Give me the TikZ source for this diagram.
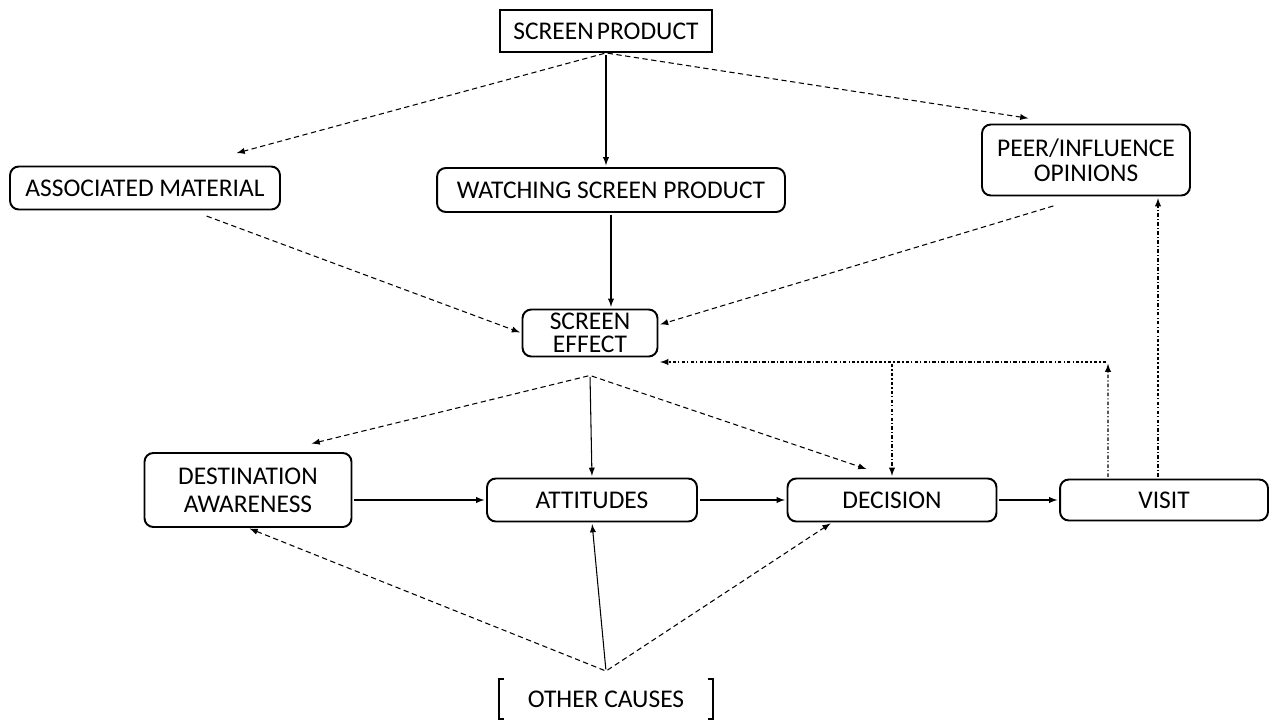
\documentclass[tikz,border=0pt]{standalone}
\usepackage{fontspec}
\setmainfont{Carlito}
\usetikzlibrary{arrows,positioning}
\tikzset{%
  % Specifications for style of arrows:
   link/.style={
           -latex,
           line width=0.6pt,
           shorten <=1pt,
           shorten >=1pt,},
   dashlink/.style={
           link,
           dash pattern=on 3pt off 2pt},
   feedback/.style={
           link,
           dash pattern=on 2pt off 1.2pt on 0.7pt off 1.2pt},
  % Specifications for style of nodes:
   base/.style = {rectangle, rounded corners=5pt, draw=black, line width=1.1pt,
                  inner sep=0pt, align=center,
                  text centered, font=\fontsize{14.5}{14}\selectfont},
   plain/.style = {base, sharp corners},
   open/.style = {base, draw=none},
}

\begin{document}
\begin{tikzpicture}[x=0.02cm, y=-0.02cm]
  \useasboundingbox (0,0) rectangle (1271,720);

  % Specification of nodes (position, etc.)
  \node (sp)     [plain, minimum width=4.24cm, minimum height=0.84cm] at (606,31)  {SCREEN\hspace{0.12em}PRODUCT};
  \node (assoc)  [base, minimum width=5.4cm, minimum height=0.86cm]   at (145,188) {ASSOCIATED MATERIAL};
  \node (watch)  [base, minimum width=6.96cm, minimum height=0.88cm]  at (611,190) {WATCHING SCREEN PRODUCT};
  \node (peer)   [base, minimum width=4.16cm, minimum height=1.42cm]  at (1086,160) {PEER/INFLUENCE\\OPINIONS};
  \node (se)     [base, minimum width=2.7cm, minimum height=0.94cm]   at (590,333) {SCREEN\\[-1pt]EFFECT};
  \node (dest)   [base, minimum width=4.14cm, minimum height=1.48cm] at (248,490) {DESTINATION\\[2pt]AWARENESS};
  \node (att)    [base, minimum width=4.2cm, minimum height=0.86cm]   at (592,500) {ATTITUDES};
  \node (dec)    [base, minimum width=4.18cm, minimum height=0.86cm]  at (892,500) {DECISION};
  \node (visit)  [base, minimum width=4.16cm, minimum height=0.82cm]  at (1164,500) {VISIT};
  \node (oc)     [open, minimum width=4.24cm, minimum height=0.76cm]  at (606,699) {OTHER CAUSES};

  % brackets of the last box
  \draw[line width=1.1pt] ([xshift=0.1cm]oc.north west) -- (oc.north west) -- (oc.south west) -- ([xshift=0.1cm]oc.south west);
  \draw[line width=1.1pt] ([xshift=-0.1cm]oc.north east) -- (oc.north east) -- (oc.south east) -- ([xshift=-0.1cm]oc.south east);

  % Helper points
  \coordinate (fan)    at ([yshift=-0.36cm]se.south);
  \coordinate (ocfan)  at ([yshift=0.16cm]oc.north);
  \coordinate (fbturn) at (1108,362);

  % Specification of arrows
  \draw[dashlink] (sp.south) -- ([xshift=1.8cm,yshift=0.24cm]assoc.north);
  \draw[link]     (sp.south) -- (sp.south |- watch.north);
  \draw[dashlink] (sp.south) -- ([xshift=-1.12cm,yshift=0.1cm]peer.north);

  \draw[dashlink] ([xshift=1.2cm,yshift=-0.1cm]assoc.south) -- (se.west);
  \draw[link]     (watch.south) -- (watch.south |- se.north);
  \draw[dashlink] ([xshift=-0.62cm,yshift=-0.18cm]peer.south) -- ([yshift=0.16cm]se.east);

  \draw[dashlink] (fan) -- ([xshift=1.24cm,yshift=0.16cm]dest.north);
  \draw[link]     (fan) -- (att.north);
  \draw[dashlink] (fan) -- ([xshift=-0.48cm,yshift=0.16cm]dec.north);

  \draw[link] (dest.east |- att.west) -- (att.west);
  \draw[link] (att.east) -- (dec.west);
  \draw[link] (dec.east) -- (visit.west);

  \draw[feedback] ([xshift=-0.12cm]visit.north) -- ([xshift=-0.12cm]visit.north |- peer.south);
  \draw[feedback] ([xshift=-1.12cm]visit.north) -- (fbturn);
  \draw[feedback] (fbturn) -- (fbturn -| se.east);
  \draw[feedback] (fbturn -| dec.north) -- (dec.north);

  \draw[dashlink] (ocfan) -- (dest.south);
  \draw[link]     (ocfan) -- (att.south);
  \draw[dashlink] (ocfan) -- ([xshift=-1.2cm]dec.south);
\end{tikzpicture}
\end{document}
